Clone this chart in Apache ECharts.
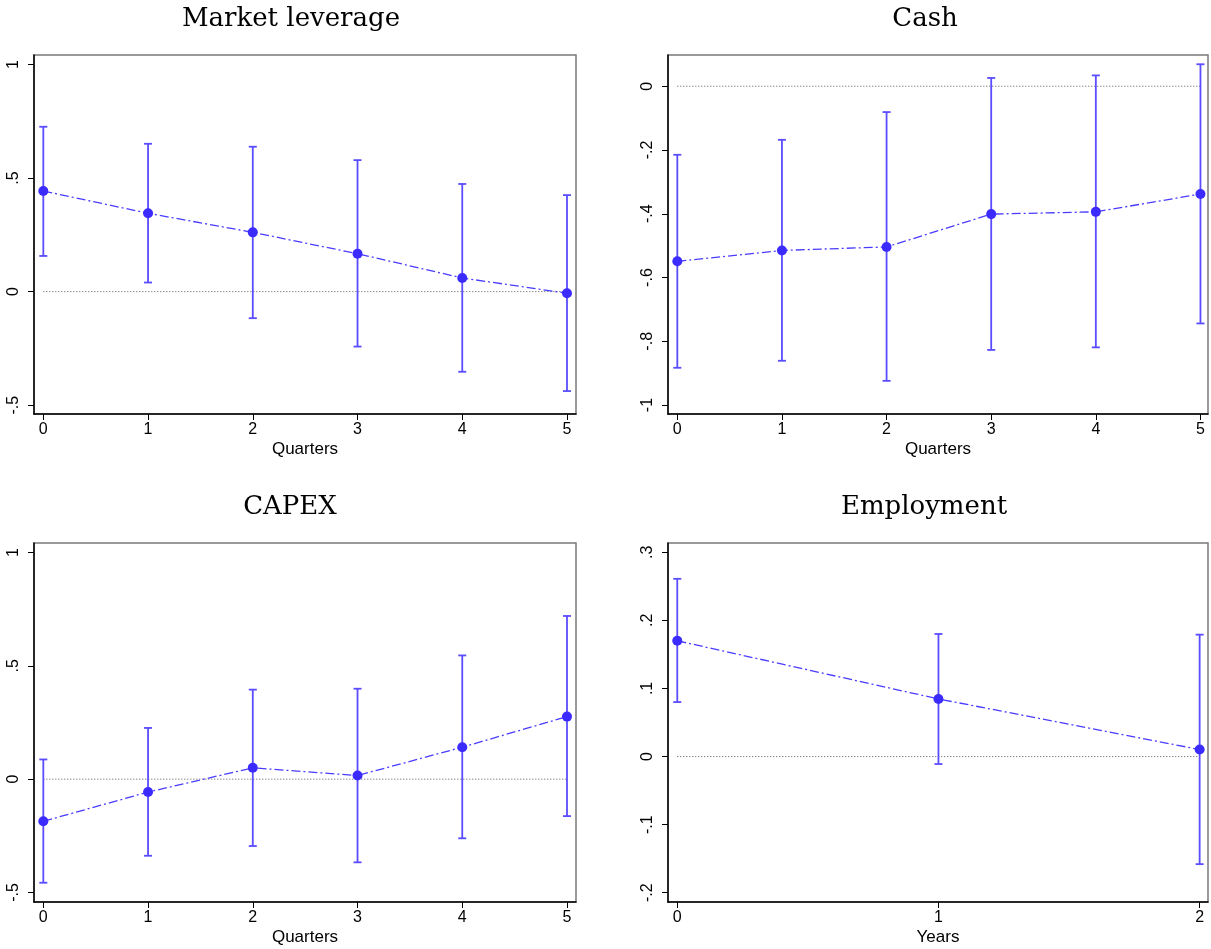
<!DOCTYPE html>
<html>
<head>
<meta charset="utf-8">
<script src="https://cdn.jsdelivr.net/npm/echarts@6/dist/echarts.min.js"></script>
<style>html,body{margin:0;padding:0;background:#fff}#c{width:1211px;height:949px}</style>
</head>
<body>
<div id="c"></div>
<script>
// ---- data ----
const quarters = [0, 1, 2, 3, 4, 5];
const years = [0, 1, 2];

const levCoef = [0.443, 0.345, 0.261, 0.167, 0.060, -0.007];
const levHi   = [0.726, 0.651, 0.638, 0.579, 0.474, 0.425];
const levLo   = [0.157, 0.040, -0.117, -0.242, -0.353, -0.438];

const cashCoef = [-0.549, -0.515, -0.504, -0.401, -0.394, -0.338];
const cashHi   = [-0.215, -0.168, -0.081, 0.026, 0.034, 0.069];
const cashLo   = [-0.883, -0.861, -0.924, -0.827, -0.819, -0.744];

const capexCoef = [-0.186, -0.057, 0.050, 0.016, 0.141, 0.276];
const capexHi   = [0.087, 0.226, 0.395, 0.399, 0.546, 0.720];
const capexLo   = [-0.457, -0.338, -0.295, -0.367, -0.261, -0.163];

const empCoef = [0.170, 0.0846, 0.0103];
const empHi   = [0.261, 0.180, 0.179];
const empLo   = [0.080, -0.011, -0.158];

const levTicks = [-0.5, 0, 0.5, 1];
const cashTicks = [-1, -0.8, -0.6, -0.4, -0.2, 0];
const capexTicks = [-0.5, 0, 0.5, 1];
const empTicks = [-0.2, -0.1, 0, 0.1, 0.2, 0.3];

const titles = ['Market leverage', 'Cash', 'CAPEX', 'Employment'];
const xNames = ['Quarters', 'Quarters', 'Quarters', 'Years'];

// ---- styling / layout ----
const BLUE_M = '#3b2bff';
const BLUE_L = '#4a3cff';
const BLUE_E = '#5a4cff';
const SANS = 'Liberation Sans, Arial, sans-serif';

const grids = [
  {left: 34, top: 55, width: 542, height: 359},
  {left: 668, top: 55, width: 540, height: 359},
  {left: 34, top: 543, width: 542, height: 359},
  {left: 668, top: 543, width: 540, height: 359}
];
const xRanges = [[-0.089, 5.086], [-0.089, 5.072], [-0.089, 5.086], [-0.0355, 2.032]];
const yRanges = [[-0.539, 1.042], [-1.028, 0.098], [-0.542, 1.042], [-0.2136, 0.3136]];
const xCats = [quarters, quarters, quarters, years];
const yTicks = [levTicks, cashTicks, capexTicks, empTicks];
const coefs = [levCoef, cashCoef, capexCoef, empCoef];
const his = [levHi, cashHi, capexHi, empHi];
const los = [levLo, cashLo, capexLo, empLo];
const titleX = [291, 925, 290, 924];
const titleY = [19, 19, 507, 507];

function fmt(v) {
  let s = String(Math.round(v * 100) / 100);
  return s.replace(/^(-?)0\./, '$1.');
}

const option = {
  animation: false,
  backgroundColor: '#fff',
  grid: grids.map(g => Object.assign({show: true, borderColor: '#7a7a7a', borderWidth: 1.5, backgroundColor: '#fff'}, g)),
  graphic: titles.map((t, i) => ({
    type: 'text', x: titleX[i], y: titleY[i],
    style: {text: t, font: '26px "DejaVu Serif", serif', fill: '#000', textAlign: 'center', textVerticalAlign: 'middle'}
  })),
  xAxis: grids.map((g, i) => ({
    type: 'value', gridIndex: i, min: xRanges[i][0], max: xRanges[i][1],
    name: xNames[i], nameLocation: 'middle', nameGap: 27,
    nameTextStyle: {fontFamily: SANS, fontSize: 17, color: '#000'},
    axisLine: {show: true, onZero: false, lineStyle: {color: '#000', width: 1.5}},
    axisTick: {show: true, length: 6, customValues: xCats[i], lineStyle: {color: '#000'}},
    axisLabel: {customValues: xCats[i], fontFamily: SANS, fontSize: 16, color: '#000', margin: 8, formatter: v => String(v)},
    splitLine: {show: false}
  })),
  yAxis: grids.map((g, i) => ({
    type: 'value', gridIndex: i, min: yRanges[i][0], max: yRanges[i][1],
    axisLine: {show: true, onZero: false, lineStyle: {color: '#000', width: 1.5}},
    axisTick: {show: true, length: 6, customValues: yTicks[i], lineStyle: {color: '#000'}},
    axisLabel: {customValues: yTicks[i], rotate: 90, fontFamily: SANS, fontSize: 16, color: '#000', margin: 12, formatter: fmt},
    splitLine: {show: false}
  })),
  series: []
};

for (let i = 0; i < 4; i++) {
  const xs = xCats[i];
  // zero reference line
  option.series.push({
    type: 'line', xAxisIndex: i, yAxisIndex: i, silent: true, symbol: 'none',
    data: [[xs[0], 0], [xs[xs.length - 1], 0]],
    lineStyle: {color: '#555', width: 1, type: [1, 2]}, z: 1
  });
  // error bars
  option.series.push({
    type: 'custom', xAxisIndex: i, yAxisIndex: i, silent: true, z: 2,
    data: xs.map((x, k) => [x, los[i][k], his[i][k]]),
    renderItem: function (params, api) {
      const x = api.value(0);
      const pLo = api.coord([x, api.value(1)]);
      const pHi = api.coord([x, api.value(2)]);
      const st = {stroke: BLUE_E, lineWidth: 1.8};
      const w = 4;
      return {
        type: 'group', children: [
          {type: 'line', shape: {x1: pLo[0], y1: pLo[1], x2: pHi[0], y2: pHi[1]}, style: st},
          {type: 'line', shape: {x1: pLo[0] - w, y1: pLo[1], x2: pLo[0] + w, y2: pLo[1]}, style: st},
          {type: 'line', shape: {x1: pHi[0] - w, y1: pHi[1], x2: pHi[0] + w, y2: pHi[1]}, style: st}
        ]
      };
    }
  });
  // point estimates
  option.series.push({
    type: 'line', xAxisIndex: i, yAxisIndex: i, silent: true, z: 3,
    data: xs.map((x, k) => [x, coefs[i][k]]),
    symbol: 'circle', symbolSize: 10,
    itemStyle: {color: BLUE_M},
    lineStyle: {color: BLUE_L, width: 1.3, type: [9, 3, 2, 3]}
  });
}

const chart = echarts.init(document.getElementById('c'), null, {renderer: 'canvas'});
chart.setOption(option);
</script>
</body>
</html>
